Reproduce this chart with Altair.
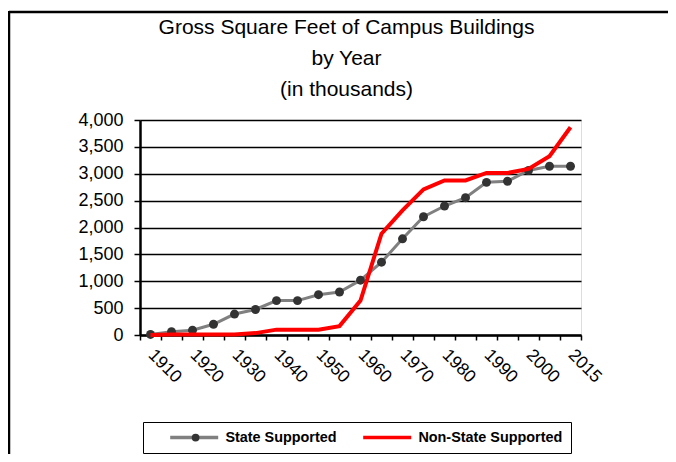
import altair as alt
import pandas as pd

years = ['1910', '1915', '1920', '1925', '1930', '1935', '1940', '1945', '1950', '1955',
         '1960', '1965', '1970', '1975', '1980', '1985', '1990', '1995', '2000', '2005', '2015']
state_supported = [10, 60, 90, 200, 390, 475, 640, 640, 750, 800,
                   1020, 1355, 1790, 2200, 2400, 2555, 2840, 2860, 3060, 3140, 3140]
non_state_supported = [0, 10, 10, 10, 10, 35, 100, 100, 100, 165,
                       640, 1885, 2320, 2710, 2875, 2875, 3015, 3015, 3090, 3325, 3865]
shown_year_labels = ['1910', '1920', '1930', '1940', '1950', '1960', '1970', '1980',
                     '1990', '2000', '2015']
series_names = ['State Supported', 'Non-State Supported']
series_colors = ['#808080', '#FF0000']
y_ticks = [0, 500, 1000, 1500, 2000, 2500, 3000, 3500, 4000]
title_lines = ['Gross Square Feet of Campus Buildings', 'by Year', '(in thousands)']

FONT = 'Liberation Sans'

df_state = pd.DataFrame({'year': years, 'value': state_supported, 'series': series_names[0]})
df_non = pd.DataFrame({'year': years, 'value': non_state_supported, 'series': series_names[1]})

label_list = ",".join("'" + s + "'" for s in shown_year_labels)
x_enc = alt.X('year:O', sort=years, title=None,
              scale=alt.Scale(type='band', paddingInner=0, paddingOuter=0, domain=years),
              bandPosition=0.5,
              axis=alt.Axis(tickBand='extent', labelAngle=45, labelAlign='left',
                            labelBaseline='middle', labelPadding=12, labelOverlap=False,
                            labelExpr=f"indexof([{label_list}], datum.value) >= 0 ? datum.value : ''",
                            labelFont=FONT, labelFontSize=17.5, labelColor='black',
                            domainColor='black', domainWidth=2.5, tickColor='black',
                            tickWidth=1.5, tickSize=5, grid=False))
y_enc = alt.Y('value:Q', title=None,
              scale=alt.Scale(domain=[0, 4000], nice=False),
              axis=alt.Axis(values=y_ticks, format=',.0f', labelFont=FONT, labelFontSize=18,
                            labelColor='black', labelPadding=11, domainColor='black',
                            domainWidth=2.5, tickColor='black', tickWidth=1.5, tickSize=6,
                            grid=True, gridColor='black', gridWidth=1.5))

legend = alt.Legend(orient='none', legendX=3, legendY=302, direction='horizontal',
                    title=None, strokeColor='black', fillColor='white', padding=8,
                    symbolType='M-4.8,0L4.8,0', symbolSize=100, symbolStrokeWidth=3.5,
                    labelFont=FONT, labelFontSize=14.4, labelFontWeight='bold',
                    labelColor='black', columnPadding=7, labelOffset=24, symbolOffset=36)
color_scale = alt.Scale(domain=series_names, range=series_colors)

state_line = alt.Chart(df_state).mark_line(strokeWidth=3).encode(
    x=x_enc, y=y_enc,
    color=alt.Color('series:N', scale=color_scale, legend=legend))

state_dots = alt.Chart(df_state).mark_circle(size=80, opacity=1).encode(
    x=x_enc, y=y_enc,
    fill=alt.Fill('series:N', scale=alt.Scale(domain=[series_names[0]], range=['#333333']),
                  legend=alt.Legend(orient='none', legendX=51.6, legendY=313.6, title=None,
                                    padding=0, symbolType='circle', symbolSize=60,
                                    labelExpr="''", labelFontSize=1, labelOffset=0,
                                    symbolStrokeWidth=0)))

non_line = alt.Chart(df_non).mark_line(strokeWidth=4).encode(
    x=x_enc, y=y_enc,
    color=alt.Color('series:N', scale=color_scale, legend=legend))

frame_df = pd.DataFrame({'f': [0]})
frame_top = alt.Chart(frame_df).mark_rule(color='black', strokeWidth=2.5).encode(
    x=alt.value(-131), x2=alt.value(540), y=alt.value(-108))
frame_left = alt.Chart(frame_df).mark_rule(color='black', strokeWidth=2.5).encode(
    x=alt.value(-131), y=alt.value(-109), y2=alt.value(340))

chart = alt.layer(frame_top, frame_left, state_line, state_dots, non_line).properties(
    width=441, height=215,
    title=alt.TitleParams(text=title_lines, font=FONT, fontSize=21, fontWeight='normal',
                          color='black', lineHeight=31, anchor='middle', dx=-14, offset=-90,
                          frame='group'),
    autosize=alt.AutoSizeParams(type='none'),
    padding={'left': 132, 'top': 112, 'right': 87, 'bottom': 119},
).configure_view(stroke='black', strokeWidth=2).configure(background='white')

chart.save('out.html', embed_options={'renderer': 'svg', 'actions': False})
